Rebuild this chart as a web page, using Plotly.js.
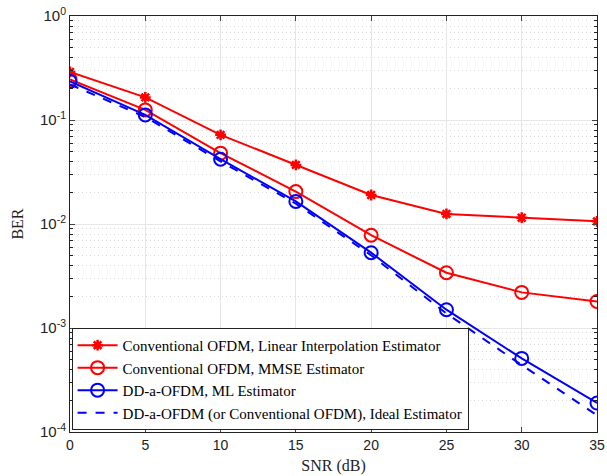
<!DOCTYPE html>
<html><head><meta charset="utf-8">
<script src="https://cdn.plot.ly/plotly-3.0.1.min.js"></script>
<style>html,body{margin:0;padding:0;background:#fff}</style>
</head><body>
<div id="chart" style="width:607px;height:476px"></div>
<script>
const snr = [0, 5, 10, 15, 20, 25, 30, 35];
const berLinear = [0.29, 0.165, 0.072, 0.037, 0.019, 0.0125, 0.0115, 0.0106];
const berMMSE = [0.245, 0.125, 0.048, 0.0205, 0.0078, 0.0034, 0.0022, 0.0018];
const berML = [0.235, 0.112, 0.042, 0.0165, 0.0053, 0.0015, 0.00051, 0.00019];
const berIdeal = [0.22, 0.107, 0.040, 0.0157, 0.0050, 0.00138, 0.00044, 0.000145];
const seriesNames = [
  'Conventional OFDM, Linear Interpolation Estimator',
  'Conventional OFDM, MMSE Estimator',
  'DD-a-OFDM, ML Estimator',
  'DD-a-OFDM (or Conventional OFDM), Ideal Estimator'
];
const yTickVals = [1e-4, 1e-3, 1e-2, 1e-1, 1];
const yTickText = ['10<sup>-4</sup>', '10<sup>-3</sup>', '10<sup>-2</sup>', '10<sup>-1</sup>', '10<sup>0</sup>'];
const xTickVals = [0, 5, 10, 15, 20, 25, 30, 35];

const red = '#ff0000', blue = '#0000ff';
const serif = 'Liberation Serif';
const sans = 'Liberation Sans';
const traces = [
  {x: snr, y: berLinear, name: seriesNames[0], mode: 'lines+markers',
   line: {color: red, width: 2}, marker: {symbol: 'asterisk-open', size: 9, color: red, line: {color: red, width: 2.5}}},
  {x: snr, y: berMMSE, name: seriesNames[1], mode: 'lines+markers',
   line: {color: red, width: 2}, marker: {symbol: 'circle-open', size: 13, color: red, line: {color: red, width: 2}}},
  {x: snr, y: berML, name: seriesNames[2], mode: 'lines+markers',
   line: {color: blue, width: 2}, marker: {symbol: 'circle-open', size: 13, color: blue, line: {color: blue, width: 2}}},
  {x: snr, y: berIdeal, name: seriesNames[3], mode: 'lines',
   line: {color: blue, width: 2, dash: 'dash'}}
];
const layout = {
  width: 607, height: 476,
  margin: {l: 70, r: 10, t: 16, b: 44},
  paper_bgcolor: '#fff', plot_bgcolor: '#fff',
  showlegend: true,
  legend: {x: 0.003, y: 0.005, xanchor: 'left', yanchor: 'bottom',
    bgcolor: '#fff', bordercolor: '#222', borderwidth: 1,
    font: {family: serif, size: 15, color: '#000'},
    tracegroupgap: 0, itemwidth: 40},
  xaxis: {range: [0, 35], tickvals: xTickVals, ticks: 'inside', ticklen: 5,
    showline: true, mirror: 'ticks', linecolor: '#222', linewidth: 1,
    showgrid: true, gridcolor: '#e6e6e6', gridwidth: 1, zeroline: false,
    tickfont: {family: sans, size: 14, color: '#222'},
    title: {text: 'SNR (dB)', standoff: 8, font: {family: serif, size: 16, color: '#222'}}},
  yaxis: {type: 'log', range: [-4, 0], tickvals: yTickVals, ticktext: yTickText,
    ticks: 'inside', ticklen: 5,
    showline: true, mirror: 'ticks', linecolor: '#222', linewidth: 1,
    showgrid: true, gridcolor: '#e6e6e6', gridwidth: 1, zeroline: false,
    minor: {dtick: 'D1', showgrid: true, gridcolor: '#dadada', griddash: '1px,3px', ticks: 'inside', ticklen: 3, tickcolor: '#222'},
    tickfont: {family: sans, size: 15, color: '#222'},
    title: {text: 'BER', standoff: 12, font: {family: serif, size: 16, color: '#222'}}}
};
Plotly.newPlot('chart', traces, layout, {displayModeBar: false, staticPlot: true});
</script>
</body></html>
